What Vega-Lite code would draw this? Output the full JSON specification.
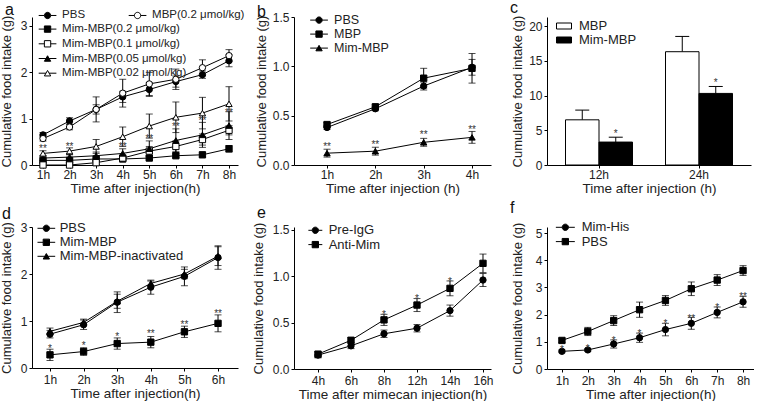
{
  "$schema": "https://vega.github.io/schema/vega-lite/v6.json",
  "background": "white",
  "padding": {"left": 0, "top": 0, "right": 0, "bottom": 0},
  "columns": 3,
  "bounds": "flush",
  "align": "each",
  "spacing": {"row": 62, "column": 56},
  "resolve": {"scale": {"shape": "independent", "fill": "independent", "xOffset": "independent"}, "legend": {"shape": "independent", "fill": "independent"}},
  "config": {
    "view": {"stroke": null},
    "font": "Liberation Sans",
    "axis": {"grid": false, "domainColor": "#000", "tickColor": "#000", "domainWidth": 1, "tickWidth": 1, "tickSize": 3, "labelFont": "Liberation Sans", "labelFontSize": 12, "labelColor": "#222", "titleFont": "Liberation Sans", "titleFontWeight": "normal", "titleColor": "#222"},
    "axisX": {"labelAngle": 0, "titleFontSize": 13.5, "titlePadding": 1},
    "axisY": {"titleFontSize": 13, "labelPadding": 2},
    "legend": {"orient": "none", "padding": 0, "labelFont": "Liberation Sans", "labelColor": "#222", "symbolSize": 40, "symbolStrokeColor": "black", "symbolStrokeWidth": 1, "symbolOpacity": 1},
    "title": {"font": "Liberation Sans", "fontSize": 16, "fontWeight": "normal", "anchor": "start", "frame": "group", "color": "#111", "baseline": "alphabetic"}
  },
  "concat": [
    {
      "title": {"text": "a", "dx": -27, "offset": -9},
      "width": 206, "height": 148,
      "data": {"name": "a"},
      "encoding": {
        "x": {"field": "t", "type": "ordinal", "scale": {"type": "point", "domain": ["1h","2h","3h","4h","5h","6h","7h","8h"], "padding": 0.376, "align": 0.55}, "axis": {"title": "Time after injection(h)", "labelPadding": 1}},
        "y": {"field": "v", "type": "quantitative", "scale": {"domain": [0, 3.194], "nice": false}, "axis": {"title": "Cumulative food intake (g)", "values": [0,1,2,3], "titlePadding": 6.9}}
      },
      "layer": [
        {"mark": {"type": "line", "color": "black", "strokeWidth": 1}, "encoding": {"detail": {"field": "s"}, "order": {"value": null}}},
        {"mark": {"type": "errorbar", "ticks": {"size": 7}, "thickness": 1, "color": "black"}, "encoding": {"yError": {"field": "e"}, "detail": {"field": "s"}}},
        {
          "transform": [{"filter": {"field": "s", "oneOf": ["PBS", "MBP(0.2 μmol/kg)"]}}],
          "mark": {"type": "point", "filled": true, "stroke": "black", "strokeWidth": 1, "size": 40, "opacity": 1},
          "encoding": {
            "shape": {"field": "s", "type": "nominal", "sort": ["PBS", "MBP(0.2 μmol/kg)"], "scale": {"range": ["circle", "circle"]}, "legend": null},
            "fill": {"field": "s", "type": "nominal", "scale": {"domain": ["PBS", "MBP(0.2 μmol/kg)"], "range": ["black", "white"]},
              "legend": {"title": null, "orient": "none", "legendX": 9.8, "legendY": -7.65, "columns": 2, "columnPadding": 40, "labelFontSize": 11.5, "labelOffset": 8.8, "rowPadding": 1.7,
                "symbolType": "M-2.8,0H-1M1,0H2.8M1,0A1,1,0,1,1,-1,0A1,1,0,1,1,1,0Z"}}
          }
        },
        {
          "transform": [{"filter": {"field": "s", "oneOf": ["Mim-MBP(0.2 μmol/kg)", "Mim-MBP(0.1 μmol/kg)", "Mim-MBP(0.05 μmol/kg)", "Mim-MBP(0.02 μmol/kg)"]}}],
          "mark": {"type": "point", "filled": true, "stroke": "black", "strokeWidth": 1, "size": 40, "opacity": 1},
          "encoding": {
            "shape": {"field": "s", "type": "nominal", "sort": ["Mim-MBP(0.2 μmol/kg)", "Mim-MBP(0.1 μmol/kg)", "Mim-MBP(0.05 μmol/kg)", "Mim-MBP(0.02 μmol/kg)"], "scale": {"range": ["square", "square", "triangle-up", "triangle-up"]}, "legend": null},
            "fill": {"field": "s", "type": "nominal", "scale": {"domain": ["Mim-MBP(0.2 μmol/kg)", "Mim-MBP(0.1 μmol/kg)", "Mim-MBP(0.05 μmol/kg)", "Mim-MBP(0.02 μmol/kg)"], "range": ["black", "white", "black", "white"]},
              "legend": {"title": null, "orient": "none", "legendX": 9.8, "legendY": 6.35, "labelFontSize": 11.5, "labelOffset": 8.8, "rowPadding": 1.7,
                "symbolType": {"expr": "(datum.value === 'Mim-MBP(0.2 μmol/kg)' || datum.value === 'Mim-MBP(0.1 μmol/kg)') ? 'M-2.8,0H-1M1,0H2.8M-1,-1H1V1H-1Z' : 'M-2.8,0H-0.5M0.5,0H2.8M0,-0.866L1,0.866H-1Z'"}}}
          }
        },
        {"data": {"name": "a_star"}, "mark": {"type": "text", "fontSize": 10, "color": "#333", "baseline": "middle", "dy": 3}, "encoding": {"text": {"field": "lab"}}}
      ],
      "resolve": {"scale": {"shape": "independent", "fill": "independent"}}
    },
    {
      "title": {"text": "b", "dx": -37, "offset": -9},
      "width": 197, "height": 148,
      "data": {"name": "b"},
      "encoding": {
        "x": {"field": "t", "type": "ordinal", "scale": {"type": "point", "domain": ["1h","2h","3h","4h"], "padding": 0.538, "align": 0.635}, "axis": {"title": "Time after injection (h)", "labelPadding": 1}},
        "y": {"field": "v", "type": "quantitative", "scale": {"domain": [0, 1.5], "nice": false}, "axis": {"title": "Cumulative food intake (g)", "values": [0, 0.5, 1, 1.5], "format": ".1f", "titlePadding": 3.9}}
      },
      "layer": [
        {"mark": {"type": "line", "color": "black", "strokeWidth": 1}, "encoding": {"detail": {"field": "s"}, "order": {"value": null}}},
        {"mark": {"type": "errorbar", "ticks": {"size": 7}, "thickness": 1, "color": "black"}, "encoding": {"yError": {"field": "e"}, "detail": {"field": "s"}}},
        {
          "mark": {"type": "point", "filled": true, "stroke": "black", "strokeWidth": 1, "size": 40, "opacity": 1},
          "encoding": {
            "shape": {"field": "s", "type": "nominal", "sort": ["PBS", "MBP", "Mim-MBP"], "scale": {"range": ["circle", "square", "triangle-up"]}, "legend": null},
            "fill": {"field": "s", "type": "nominal", "scale": {"domain": ["PBS", "MBP", "Mim-MBP"], "range": ["black", "black", "black"]},
              "legend": {"title": null, "orient": "none", "legendX": 18.8, "legendY": -3.15, "labelFontSize": 12.5, "labelOffset": 8.8, "rowPadding": 1,
                "symbolType": {"expr": "datum.value === 'PBS' ? 'M-2.8,0H-1M1,0H2.8M1,0A1,1,0,1,1,-1,0A1,1,0,1,1,1,0Z' : (datum.value === 'MBP' ? 'M-2.8,0H-1M1,0H2.8M-1,-1H1V1H-1Z' : 'M-2.8,0H-0.5M0.5,0H2.8M0,-0.866L1,0.866H-1Z')"}}}
          }
        },
        {"data": {"name": "b_star"}, "mark": {"type": "text", "fontSize": 10, "color": "#333", "baseline": "middle", "dy": 3}, "encoding": {"text": {"field": "lab"}}}
      ]
    },
    {
      "title": {"text": "c", "dx": -37, "offset": -1},
      "width": 204, "height": 148,
      "data": {"name": "c"},
      "encoding": {
        "x": {"field": "t", "type": "nominal", "scale": {"type": "band", "domain": ["12h", "24h"], "paddingInner": 0.33, "paddingOuter": 0.185}, "axis": {"title": "Time after injection (h)", "labelPadding": 1}},
        "xOffset": {"field": "s", "type": "nominal", "scale": {"domain": ["MBP", "Mim-MBP"], "paddingInner": 0, "paddingOuter": 0}},
        "y": {"field": "v", "type": "quantitative", "scale": {"domain": [0, 21.295], "nice": false}, "axis": {"title": "Cumulative food intake (g)", "values": [0, 5, 10, 15, 20], "titlePadding": 4.3}}
      },
      "layer": [
        {"mark": {"type": "rule", "color": "black", "strokeWidth": 1}, "encoding": {"y2": {"field": "hi"}}},
        {
          "mark": {"type": "bar", "stroke": "black", "strokeWidth": 1, "opacity": 1},
          "encoding": {
            "fill": {"field": "s", "type": "nominal", "scale": {"domain": ["MBP", "Mim-MBP"], "range": ["white", "black"]},
              "legend": {"title": null, "orient": "none", "legendX": 10.5, "legendY": 2.5, "symbolType": "M-2.5,-1H2.5V1H-2.5Z", "symbolSize": 36, "labelFontSize": 13, "labelOffset": 8.5, "rowPadding": 0}}
          }
        },
        {"mark": {"type": "tick", "color": "black", "thickness": 1, "size": 14, "opacity": 1}, "encoding": {"y": {"field": "hi", "type": "quantitative", "scale": {"domain": [0, 21.295], "nice": false}, "axis": {"title": "Cumulative food intake (g)", "values": [0, 5, 10, 15, 20], "titlePadding": 4.3}}}},
        {"data": {"name": "c_star"}, "mark": {"type": "text", "fontSize": 10, "color": "#333", "baseline": "middle", "dy": 3}, "encoding": {"text": {"field": "lab"}}}
      ]
    },
    {
      "title": {"text": "d", "dx": -30, "offset": -1},
      "width": 206, "height": 141,
      "data": {"name": "d"},
      "encoding": {
        "x": {"field": "t", "type": "ordinal", "scale": {"type": "point", "domain": ["1h","2h","3h","4h","5h","6h"], "padding": 0.565, "align": 0.474}, "axis": {"title": "Time after injection(h)", "labelPadding": 3}},
        "y": {"field": "v", "type": "quantitative", "scale": {"domain": [0, 3], "nice": false}, "axis": {"title": "Cumulative food intake (g)", "values": [0,1,2,3], "titlePadding": 6.4}}
      },
      "layer": [
        {"mark": {"type": "line", "color": "black", "strokeWidth": 1}, "encoding": {"detail": {"field": "s"}, "order": {"value": null}}},
        {"mark": {"type": "errorbar", "ticks": {"size": 7}, "thickness": 1, "color": "black"}, "encoding": {"yError": {"field": "e"}, "detail": {"field": "s"}}},
        {
          "mark": {"type": "point", "filled": true, "stroke": "black", "strokeWidth": 1, "size": 40, "opacity": 1},
          "encoding": {
            "shape": {"field": "s", "type": "nominal", "sort": ["PBS", "Mim-MBP", "Mim-MBP-inactivated"], "scale": {"range": ["circle", "square", "triangle-up"]}, "legend": null},
            "fill": {"field": "s", "type": "nominal", "scale": {"domain": ["PBS", "Mim-MBP", "Mim-MBP-inactivated"], "range": ["black", "black", "black"]},
              "legend": {"title": null, "orient": "none", "legendX": 7.84, "legendY": -5.2, "labelFontSize": 13, "labelOffset": 6.84, "rowPadding": 0,
                "symbolType": {"expr": "datum.value === 'PBS' ? 'M-2.8,0H-1M1,0H2.8M1,0A1,1,0,1,1,-1,0A1,1,0,1,1,1,0Z' : (datum.value === 'Mim-MBP' ? 'M-2.8,0H-1M1,0H2.8M-1,-1H1V1H-1Z' : 'M-2.8,0H-0.5M0.5,0H2.8M0,-0.866L1,0.866H-1Z')"}}}
          }
        },
        {"data": {"name": "d_star"}, "mark": {"type": "text", "fontSize": 10, "color": "#333", "baseline": "middle", "dy": 3}, "encoding": {"text": {"field": "lab"}}}
      ]
    },
    {
      "title": {"text": "e", "dx": -37, "offset": 1},
      "width": 197, "height": 142,
      "data": {"name": "e"},
      "encoding": {
        "x": {"field": "t", "type": "ordinal", "scale": {"type": "point", "domain": ["4h","6h","8h","12h","14h","16h"], "padding": 0.485, "align": 0.75}, "axis": {"title": "Time after mimecan injection(h)", "labelPadding": 3}},
        "y": {"field": "v", "type": "quantitative", "scale": {"domain": [0, 1.532], "nice": false}, "axis": {"title": "Cumulative food intake (g)", "values": [0, 0.5, 1, 1.5], "format": ".1f", "titlePadding": 6.9}}
      },
      "layer": [
        {"mark": {"type": "line", "color": "black", "strokeWidth": 1}, "encoding": {"detail": {"field": "s"}, "order": {"value": null}}},
        {"mark": {"type": "errorbar", "ticks": {"size": 7}, "thickness": 1, "color": "black"}, "encoding": {"yError": {"field": "e"}, "detail": {"field": "s"}}},
        {
          "mark": {"type": "point", "filled": true, "stroke": "black", "strokeWidth": 1, "size": 40, "opacity": 1},
          "encoding": {
            "shape": {"field": "s", "type": "nominal", "sort": ["Pre-IgG", "Anti-Mim"], "scale": {"range": ["circle", "square"]}, "legend": null},
            "fill": {"field": "s", "type": "nominal", "scale": {"domain": ["Pre-IgG", "Anti-Mim"], "range": ["black", "black"]},
              "legend": {"title": null, "orient": "none", "legendX": 14.84, "legendY": -3.2, "labelFontSize": 13, "labelOffset": 6.84, "rowPadding": 0.3,
                "symbolType": {"expr": "datum.value === 'Pre-IgG' ? 'M-2.2,0H-1M1,0H2.2M1,0A1,1,0,1,1,-1,0A1,1,0,1,1,1,0Z' : 'M-2.2,0H-1M1,0H2.2M-1,-1H1V1H-1Z'"}}}
          }
        },
        {"data": {"name": "e_star"}, "mark": {"type": "text", "fontSize": 10, "color": "#333", "baseline": "middle", "dy": 3}, "encoding": {"text": {"field": "lab"}}}
      ]
    },
    {
      "title": {"text": "f", "dx": -37, "offset": 5},
      "width": 207, "height": 142,
      "data": {"name": "f"},
      "encoding": {
        "x": {"field": "t", "type": "ordinal", "scale": {"type": "point", "domain": ["1h","2h","3h","4h","5h","6h","7h","8h"], "padding": 0.5, "align": 0.577}, "axis": {"title": "Time after injection(h)", "labelPadding": 3}},
        "y": {"field": "v", "type": "quantitative", "scale": {"domain": [0, 5.221], "nice": false}, "axis": {"title": "Cumulative food intake (g)", "values": [0,1,2,3,4,5], "titlePadding": 10.9}}
      },
      "layer": [
        {"mark": {"type": "line", "color": "black", "strokeWidth": 1}, "encoding": {"detail": {"field": "s"}, "order": {"value": null}}},
        {"mark": {"type": "errorbar", "ticks": {"size": 7}, "thickness": 1, "color": "black"}, "encoding": {"yError": {"field": "e"}, "detail": {"field": "s"}}},
        {
          "mark": {"type": "point", "filled": true, "stroke": "black", "strokeWidth": 1, "size": 40, "opacity": 1},
          "encoding": {
            "shape": {"field": "s", "type": "nominal", "sort": ["Mim-His", "PBS"], "scale": {"range": ["circle", "square"]}, "legend": null},
            "fill": {"field": "s", "type": "nominal", "scale": {"domain": ["Mim-His", "PBS"], "range": ["black", "black"]},
              "legend": {"title": null, "orient": "none", "legendX": 11.84, "legendY": -6.2, "labelFontSize": 13, "labelOffset": 9.84, "rowPadding": 0.3,
                "symbolType": {"expr": "datum.value === 'Mim-His' ? 'M-3,0H-1M1,0H3M1,0A1,1,0,1,1,-1,0A1,1,0,1,1,1,0Z' : 'M-3,0H-1M1,0H3M-1,-1H1V1H-1Z'"}}}
          }
        },
        {"data": {"name": "f_star"}, "mark": {"type": "text", "fontSize": 10, "color": "#333", "baseline": "middle", "dy": 3}, "encoding": {"text": {"field": "lab"}}}
      ]
    }
  ],
  "datasets": {
    "a": [
      {"t": "1h", "s": "PBS", "v": 0.65, "e": 0.05}, {"t": "2h", "s": "PBS", "v": 0.95, "e": 0.07}, {"t": "3h", "s": "PBS", "v": 1.2, "e": 0.1}, {"t": "4h", "s": "PBS", "v": 1.47, "e": 0.12},
      {"t": "5h", "s": "PBS", "v": 1.63, "e": 0.15}, {"t": "6h", "s": "PBS", "v": 1.8, "e": 0.12}, {"t": "7h", "s": "PBS", "v": 1.95, "e": 0.08}, {"t": "8h", "s": "PBS", "v": 2.25, "e": 0.13},
      {"t": "1h", "s": "MBP(0.2 μmol/kg)", "v": 0.57, "e": 0.05}, {"t": "2h", "s": "MBP(0.2 μmol/kg)", "v": 0.82, "e": 0.06}, {"t": "3h", "s": "MBP(0.2 μmol/kg)", "v": 1.2, "e": 0.27}, {"t": "4h", "s": "MBP(0.2 μmol/kg)", "v": 1.55, "e": 0.3},
      {"t": "5h", "s": "MBP(0.2 μmol/kg)", "v": 1.75, "e": 0.25}, {"t": "6h", "s": "MBP(0.2 μmol/kg)", "v": 1.85, "e": 0.22}, {"t": "7h", "s": "MBP(0.2 μmol/kg)", "v": 2.1, "e": 0.17}, {"t": "8h", "s": "MBP(0.2 μmol/kg)", "v": 2.36, "e": 0.13},
      {"t": "1h", "s": "Mim-MBP(0.2 μmol/kg)", "v": 0.1, "e": 0.03}, {"t": "2h", "s": "Mim-MBP(0.2 μmol/kg)", "v": 0.1, "e": 0.03}, {"t": "3h", "s": "Mim-MBP(0.2 μmol/kg)", "v": 0.13, "e": 0.04}, {"t": "4h", "s": "Mim-MBP(0.2 μmol/kg)", "v": 0.13, "e": 0.04},
      {"t": "5h", "s": "Mim-MBP(0.2 μmol/kg)", "v": 0.15, "e": 0.04}, {"t": "6h", "s": "Mim-MBP(0.2 μmol/kg)", "v": 0.2, "e": 0.04}, {"t": "7h", "s": "Mim-MBP(0.2 μmol/kg)", "v": 0.22, "e": 0.04}, {"t": "8h", "s": "Mim-MBP(0.2 μmol/kg)", "v": 0.35, "e": 0.07},
      {"t": "1h", "s": "Mim-MBP(0.1 μmol/kg)", "v": 0.0, "e": 0.02}, {"t": "2h", "s": "Mim-MBP(0.1 μmol/kg)", "v": 0.0, "e": 0.02}, {"t": "3h", "s": "Mim-MBP(0.1 μmol/kg)", "v": 0.05, "e": 0.04}, {"t": "4h", "s": "Mim-MBP(0.1 μmol/kg)", "v": 0.15, "e": 0.06},
      {"t": "5h", "s": "Mim-MBP(0.1 μmol/kg)", "v": 0.3, "e": 0.1}, {"t": "6h", "s": "Mim-MBP(0.1 μmol/kg)", "v": 0.4, "e": 0.12}, {"t": "7h", "s": "Mim-MBP(0.1 μmol/kg)", "v": 0.55, "e": 0.12}, {"t": "8h", "s": "Mim-MBP(0.1 μmol/kg)", "v": 0.75, "e": 0.1},
      {"t": "1h", "s": "Mim-MBP(0.05 μmol/kg)", "v": 0.15, "e": 0.05}, {"t": "2h", "s": "Mim-MBP(0.05 μmol/kg)", "v": 0.17, "e": 0.05}, {"t": "3h", "s": "Mim-MBP(0.05 μmol/kg)", "v": 0.2, "e": 0.08}, {"t": "4h", "s": "Mim-MBP(0.05 μmol/kg)", "v": 0.25, "e": 0.1},
      {"t": "5h", "s": "Mim-MBP(0.05 μmol/kg)", "v": 0.35, "e": 0.17}, {"t": "6h", "s": "Mim-MBP(0.05 μmol/kg)", "v": 0.53, "e": 0.25}, {"t": "7h", "s": "Mim-MBP(0.05 μmol/kg)", "v": 0.65, "e": 0.27}, {"t": "8h", "s": "Mim-MBP(0.05 μmol/kg)", "v": 0.85, "e": 0.3},
      {"t": "1h", "s": "Mim-MBP(0.02 μmol/kg)", "v": 0.25, "e": 0.06}, {"t": "2h", "s": "Mim-MBP(0.02 μmol/kg)", "v": 0.3, "e": 0.07}, {"t": "3h", "s": "Mim-MBP(0.02 μmol/kg)", "v": 0.4, "e": 0.15}, {"t": "4h", "s": "Mim-MBP(0.02 μmol/kg)", "v": 0.61, "e": 0.21},
      {"t": "5h", "s": "Mim-MBP(0.02 μmol/kg)", "v": 0.84, "e": 0.26}, {"t": "6h", "s": "Mim-MBP(0.02 μmol/kg)", "v": 1.03, "e": 0.33}, {"t": "7h", "s": "Mim-MBP(0.02 μmol/kg)", "v": 1.12, "e": 0.34}, {"t": "8h", "s": "Mim-MBP(0.02 μmol/kg)", "v": 1.32, "e": 0.37}
    ],
    "a_star": [
      {"t": "1h", "v": 0.42, "lab": "**"}, {"t": "2h", "v": 0.45, "lab": "**"}, {"t": "4h", "v": 0.45, "lab": "**"}, {"t": "5h", "v": 0.63, "lab": "**"},
      {"t": "6h", "v": 0.88, "lab": "**"}, {"t": "7h", "v": 1.01, "lab": "**"}, {"t": "8h", "v": 1.19, "lab": "**"}
    ],
    "b": [
      {"t": "1h", "s": "PBS", "v": 0.38, "e": 0.02}, {"t": "2h", "s": "PBS", "v": 0.57, "e": 0.02}, {"t": "3h", "s": "PBS", "v": 0.8, "e": 0.04}, {"t": "4h", "s": "PBS", "v": 0.99, "e": 0.08},
      {"t": "1h", "s": "MBP", "v": 0.41, "e": 0.02}, {"t": "2h", "s": "MBP", "v": 0.59, "e": 0.02}, {"t": "3h", "s": "MBP", "v": 0.88, "e": 0.1}, {"t": "4h", "s": "MBP", "v": 0.98, "e": 0.15},
      {"t": "1h", "s": "Mim-MBP", "v": 0.12, "e": 0.04}, {"t": "2h", "s": "Mim-MBP", "v": 0.14, "e": 0.04}, {"t": "3h", "s": "Mim-MBP", "v": 0.23, "e": 0.04}, {"t": "4h", "s": "Mim-MBP", "v": 0.28, "e": 0.06}
    ],
    "b_star": [
      {"t": "1h", "v": 0.21, "lab": "**"}, {"t": "2h", "v": 0.23, "lab": "**"}, {"t": "3h", "v": 0.33, "lab": "**"}, {"t": "4h", "v": 0.39, "lab": "**"}
    ],
    "c": [
      {"t": "12h", "s": "MBP", "v": 6.5, "hi": 7.9}, {"t": "12h", "s": "Mim-MBP", "v": 3.3, "hi": 4.0},
      {"t": "24h", "s": "MBP", "v": 16.3, "hi": 18.5}, {"t": "24h", "s": "Mim-MBP", "v": 10.3, "hi": 11.3}
    ],
    "c_star": [
      {"t": "12h", "s": "Mim-MBP", "v": 4.9, "lab": "*"}, {"t": "24h", "s": "Mim-MBP", "v": 12.2, "lab": "*"}
    ],
    "d": [
      {"t": "1h", "s": "PBS", "v": 0.72, "e": 0.08}, {"t": "2h", "s": "PBS", "v": 0.92, "e": 0.1}, {"t": "3h", "s": "PBS", "v": 1.4, "e": 0.22}, {"t": "4h", "s": "PBS", "v": 1.72, "e": 0.15}, {"t": "5h", "s": "PBS", "v": 1.95, "e": 0.2}, {"t": "6h", "s": "PBS", "v": 2.35, "e": 0.25},
      {"t": "1h", "s": "Mim-MBP", "v": 0.28, "e": 0.12}, {"t": "2h", "s": "Mim-MBP", "v": 0.35, "e": 0.08}, {"t": "3h", "s": "Mim-MBP", "v": 0.52, "e": 0.12}, {"t": "4h", "s": "Mim-MBP", "v": 0.55, "e": 0.12}, {"t": "5h", "s": "Mim-MBP", "v": 0.77, "e": 0.12}, {"t": "6h", "s": "Mim-MBP", "v": 0.95, "e": 0.18},
      {"t": "1h", "s": "Mim-MBP-inactivated", "v": 0.78, "e": 0.07}, {"t": "2h", "s": "Mim-MBP-inactivated", "v": 0.97, "e": 0.07}, {"t": "3h", "s": "Mim-MBP-inactivated", "v": 1.42, "e": 0.15}, {"t": "4h", "s": "Mim-MBP-inactivated", "v": 1.8, "e": 0.05}, {"t": "5h", "s": "Mim-MBP-inactivated", "v": 2.0, "e": 0.1}, {"t": "6h", "s": "Mim-MBP-inactivated", "v": 2.38, "e": 0.2}
    ],
    "d_star": [
      {"t": "1h", "v": 0.46, "lab": "*"}, {"t": "2h", "v": 0.53, "lab": "*"}, {"t": "3h", "v": 0.72, "lab": "*"}, {"t": "4h", "v": 0.78, "lab": "**"}, {"t": "5h", "v": 0.98, "lab": "**"}, {"t": "6h", "v": 1.22, "lab": "**"}
    ],
    "e": [
      {"t": "4h", "s": "Pre-IgG", "v": 0.15, "e": 0.03}, {"t": "6h", "s": "Pre-IgG", "v": 0.25, "e": 0.03}, {"t": "8h", "s": "Pre-IgG", "v": 0.38, "e": 0.04}, {"t": "12h", "s": "Pre-IgG", "v": 0.44, "e": 0.04}, {"t": "14h", "s": "Pre-IgG", "v": 0.63, "e": 0.06}, {"t": "16h", "s": "Pre-IgG", "v": 0.96, "e": 0.07},
      {"t": "4h", "s": "Anti-Mim", "v": 0.16, "e": 0.03}, {"t": "6h", "s": "Anti-Mim", "v": 0.31, "e": 0.03}, {"t": "8h", "s": "Anti-Mim", "v": 0.53, "e": 0.06}, {"t": "12h", "s": "Anti-Mim", "v": 0.69, "e": 0.07}, {"t": "14h", "s": "Anti-Mim", "v": 0.87, "e": 0.08}, {"t": "16h", "s": "Anti-Mim", "v": 1.14, "e": 0.1}
    ],
    "e_star": [
      {"t": "8h", "v": 0.61, "lab": "*"}, {"t": "12h", "v": 0.79, "lab": "*"}, {"t": "14h", "v": 0.97, "lab": "*"}
    ],
    "f": [
      {"t": "1h", "s": "Mim-His", "v": 0.65, "e": 0.05}, {"t": "2h", "s": "Mim-His", "v": 0.7, "e": 0.05}, {"t": "3h", "s": "Mim-His", "v": 0.92, "e": 0.15}, {"t": "4h", "s": "Mim-His", "v": 1.15, "e": 0.17},
      {"t": "5h", "s": "Mim-His", "v": 1.45, "e": 0.23}, {"t": "6h", "s": "Mim-His", "v": 1.68, "e": 0.22}, {"t": "7h", "s": "Mim-His", "v": 2.08, "e": 0.2}, {"t": "8h", "s": "Mim-His", "v": 2.47, "e": 0.2},
      {"t": "1h", "s": "PBS", "v": 1.05, "e": 0.08}, {"t": "2h", "s": "PBS", "v": 1.38, "e": 0.15}, {"t": "3h", "s": "PBS", "v": 1.78, "e": 0.18}, {"t": "4h", "s": "PBS", "v": 2.18, "e": 0.28},
      {"t": "5h", "s": "PBS", "v": 2.52, "e": 0.18}, {"t": "6h", "s": "PBS", "v": 2.95, "e": 0.25}, {"t": "7h", "s": "PBS", "v": 3.27, "e": 0.2}, {"t": "8h", "s": "PBS", "v": 3.62, "e": 0.18}
    ],
    "f_star": [
      {"t": "1h", "v": 0.82, "lab": "*"}, {"t": "2h", "v": 0.85, "lab": "*"}, {"t": "3h", "v": 1.15, "lab": "*"}, {"t": "4h", "v": 1.4, "lab": "*"},
      {"t": "5h", "v": 1.75, "lab": "*"}, {"t": "6h", "v": 1.95, "lab": "**"}, {"t": "7h", "v": 2.35, "lab": "*"}, {"t": "8h", "v": 2.75, "lab": "**"}
    ]
  }
}
